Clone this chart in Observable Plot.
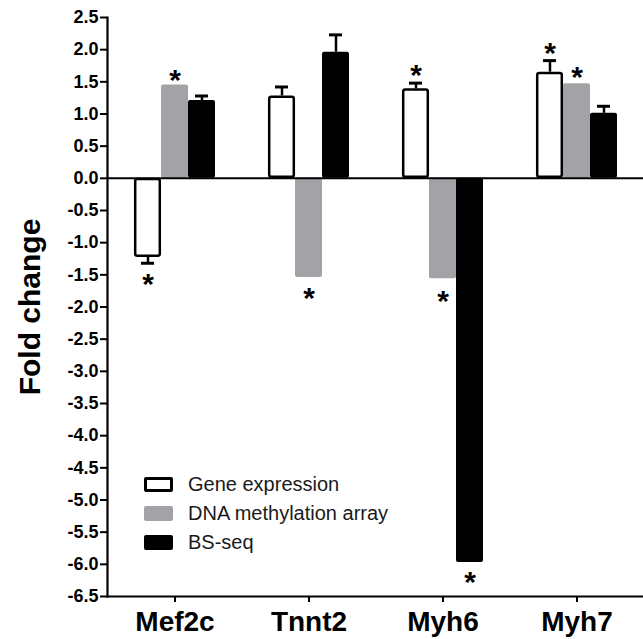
<!DOCTYPE html>
<html><head><meta charset="utf-8">
<script src="https://cdn.jsdelivr.net/npm/d3@7"></script>
<script src="https://cdn.jsdelivr.net/npm/@observablehq/plot@0.6"></script>
<style>
body{margin:0;background:#fff;font-family:"Liberation Sans",Arial,sans-serif;}
#wrap{position:relative;width:643px;height:639px;}
#legend{position:absolute;left:144px;top:470px;font-size:20px;color:#1a1a1a;}
.row{display:flex;align-items:center;height:29px;}
.sw{width:29px;height:15px;border-radius:2px;margin-right:15px;box-sizing:border-box;}
</style></head><body><div id="wrap"></div>
<script>
const genes = ["Mef2c", "Tnnt2", "Myh6", "Myh7"];
const seriesNames = ["Gene expression", "DNA methylation array", "BS-seq"];
const geneExpression = [-1.23, 1.28, 1.39, 1.65];
const geneExpressionErr = [0.09, 0.14, 0.09, 0.18];
const dnaMethylation = [1.45, -1.54, -1.56, 1.47];
const dnaMethylationErr = [0, 0, 0, 0];
const bsSeq = [1.21, 1.96, -5.97, 1.01];
const bsSeqErr = [0.07, 0.27, 0, 0.11];
// significance stars: [gene, series index, y position]
const starGenes = ["Mef2c", "Mef2c", "Tnnt2", "Myh6", "Myh6", "Myh6", "Myh7", "Myh7"];
const starSeries = [0, 1, 1, 0, 1, 2, 0, 1];
const starY = [-1.55, 1.62, -1.78, 1.70, -1.82, -6.19, 2.03, 1.66];
const yTicks = [-6.5, -6, -5.5, -5, -4.5, -4, -3.5, -3, -2.5, -2, -1.5, -1, -0.5, 0, 0.5, 1, 1.5, 2, 2.5];

const seriesValues = [geneExpression, dnaMethylation, bsSeq];
const seriesErrs = [geneExpressionErr, dnaMethylationErr, bsSeqErr];
const fills = ["white", "#a3a3a7", "black"];
const offsets = [-27, 0, 27];

const marks = [];
seriesNames.forEach((name, s) => {
  const rows = genes.map((g, i) => ({gene: g, value: seriesValues[s][i], err: seriesErrs[s][i]}));
  const errRows = rows.filter(d => d.err > 0).map(d => ({...d, end: d.value + Math.sign(d.value) * d.err}));
  marks.push(Plot.ruleX(errRows, {x: "gene", y1: "value", y2: "end", dx: offsets[s], stroke: "black", strokeWidth: 2.5}));
  marks.push(Plot.tickY(errRows, {x: "gene", y: "end", dx: offsets[s], insetLeft: 7, insetRight: 7, stroke: "black", strokeWidth: 3}));
  marks.push(Plot.barY(rows, {x: "gene", y: "value", dx: offsets[s], fill: fills[s], rx: 2,
    stroke: s === 0 ? "black" : "none", strokeWidth: 2.5, inset: s === 0 ? 1.2 : 0}));
  const st = starGenes.map((g, i) => ({gene: g, s: starSeries[i], y: starY[i]})).filter(d => d.s === s);
  marks.push(Plot.text(st, {x: "gene", y: "y", text: () => "*", dx: offsets[s], dy: 6, fontSize: 30, fontWeight: "bold", fill: "black"}));
});

const chart = Plot.plot({
  width: 643, height: 639,
  marginLeft: 107, marginRight: 0, marginTop: 17, marginBottom: 43,
  style: {fontFamily: "'Liberation Sans', Arial, sans-serif", background: "white", color: "black"},
  x: {domain: genes, paddingInner: 0.8, paddingOuter: 0.4},
  y: {domain: [-6.5, 2.5]},
  marks: [
    ...marks,
    Plot.ruleY([0], {stroke: "black", strokeWidth: 2}),
    Plot.axisY(yTicks, {tickSize: 7, tickPadding: 2, tickFormat: d => d.toFixed(1), fontSize: 18, fontWeight: "bold", strokeWidth: 2, label: null, fill: "black"}),
    Plot.axisX({tickSize: 6, tickPadding: 9, fontSize: 28, fontWeight: "bold", strokeWidth: 2, label: null, fill: "black"}),
    Plot.frame({anchor: "left", strokeWidth: 2.2}),
    Plot.frame({anchor: "bottom", strokeWidth: 2.2}),
    Plot.text(["Fold change"], {frameAnchor: "left", textAnchor: "middle", rotate: -90, dx: -77, fontSize: 30, fontWeight: "bold", fill: "black"})
  ]
});
const wrap = document.getElementById("wrap");
wrap.appendChild(chart);
const legend = document.createElement("div");
legend.id = "legend";
seriesNames.forEach((name, s) => {
  const row = document.createElement("div");
  row.className = "row";
  const sw = document.createElement("div");
  sw.className = "sw";
  sw.style.background = fills[s];
  if (s === 0) sw.style.border = "3px solid black";
  row.appendChild(sw);
  const t = document.createElement("span");
  t.textContent = name;
  row.appendChild(t);
  legend.appendChild(row);
});
wrap.appendChild(legend);
</script></body></html>
